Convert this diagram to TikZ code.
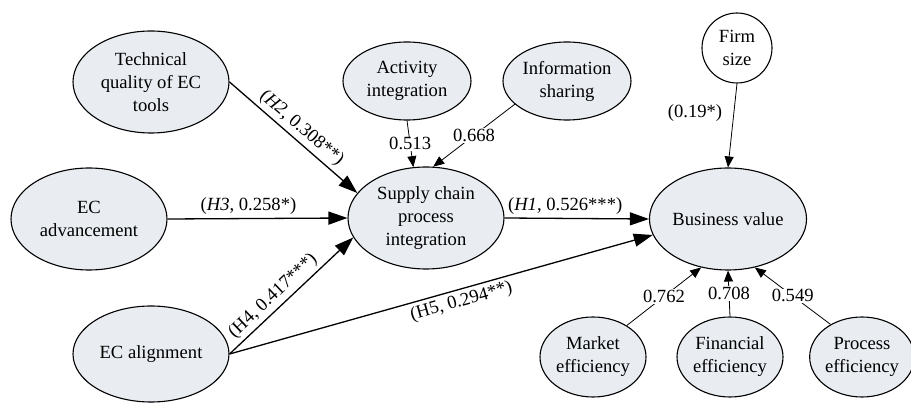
\documentclass[tikz,border=0pt]{standalone}
\usepackage{fontspec}
\setmainfont{Liberation Serif}
\usepackage{tikz}
\usetikzlibrary{shapes.geometric,arrows.meta}
\definecolor{latent}{RGB}{233,237,242}

\begin{document}
\begin{tikzpicture}[
    x=1pt, y=-1pt,
    font=\fontsize{18.6}{23}\selectfont,
    construct/.style={draw, ellipse, fill=latent, line width=1.1pt, align=center, inner sep=0pt, minimum width=156pt, minimum height=102pt},
    indicator/.style={construct, minimum width=128pt, minimum height=78pt},
    outcome/.style={construct, minimum width=106pt, minimum height=80pt},
    control/.style={draw, circle, fill=white, line width=1.1pt, align=center, inner sep=0pt, minimum size=70pt},
    hyp/.style={-{Triangle[length=19pt, width=13pt]}, line width=1.3pt},
    load/.style={-{Triangle[length=11pt, width=9pt]}, line width=0.8pt},
    coef/.style={fill=white, inner sep=1pt}
]
\useasboundingbox (0,0) rectangle (911,403);

% antecedents
\node[construct] (tech) at (151,82) {Technical\\quality of EC\\tools};
\node[construct] (adv) at (89,219) {EC\\advancement};
\node[construct, minimum height=96pt] (align) at (151,354) {EC alignment};

% mediator and its indicators
\node[construct] (scpi) at (426,218) {Supply chain\\process\\integration};
\node[indicator] (act) at (407,81) {Activity\\integration};
\node[indicator] (info) at (567,81) {Information\\sharing};

% outcome
\node[construct] (bv) at (728,219) {Business value};
\node[control] (firm) at (737,48) {Firm\\size};
\node[outcome] (mkt) at (593,357) {Market\\efficiency};
\node[outcome] (fin) at (730,357) {Financial\\efficiency};
\node[outcome, minimum width=100pt] (proc) at (862,357) {Process\\efficiency};

% structural paths
\draw[hyp] (tech.east) -- (scpi.160) node[midway, sloped, above] {(\textit{H2}, 0.308**)};
\draw[hyp] (adv.east) -- (scpi.west) node[pos=0.45, above] {(\textit{H3}, 0.258*)};
\draw[hyp] (align.east) -- (scpi.195) node[pos=0.42, sloped, above] {(H4, 0.417***)};
\draw[hyp] (align.east) -- (bv.192) node[pos=0.54, sloped, below] {(H5, 0.294**)};
\draw[hyp] (scpi.east) -- (bv.west) node[pos=0.42, above] {(\textit{H1}, 0.526***)};
\draw[load] (firm.south) -- (bv.north) node[pos=0.35, left=8pt] {(0.19*)};

% loadings
\draw[load] (act.south) -- (scpi.104) node[midway, coef] {0.513};
\draw[load] (info.204) -- (scpi.82) node[midway, coef] {0.668};
\foreach \src/\dst/\val in {mkt.43/bv.241/0.762, fin.north/bv.south/0.708, proc.134/bv.299/0.549}
  \draw[load] (\src) -- (\dst) node[midway, coef] {\val};
\end{tikzpicture}
\end{document}
